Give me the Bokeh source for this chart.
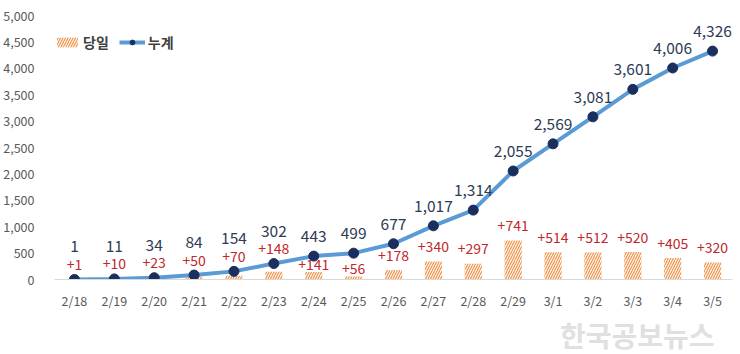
from bokeh.plotting import figure
from bokeh.models import (ColumnDataSource, Legend, LegendItem, Title, Range1d,
                          FactorRange, FixedTicker, NumeralTickFormatter)
from bokeh.embed import file_html
from bokeh.resources import INLINE
from bokeh.core.properties import value

# ---- data ----
dates = ["2/18", "2/19", "2/20", "2/21", "2/22", "2/23", "2/24", "2/25", "2/26",
         "2/27", "2/28", "2/29", "3/1", "3/2", "3/3", "3/4", "3/5"]
daily = [1, 10, 23, 50, 70, 148, 141, 56, 178, 340, 297, 741, 514, 512, 520, 405, 320]
cumulative = [1, 11, 34, 84, 154, 302, 443, 499, 677, 1017, 1314, 2055, 2569,
              3081, 3601, 4006, 4326]
y_ticks = [0, 500, 1000, 1500, 2000, 2500, 3000, 3500, 4000, 4500, 5000]
series_names = ["당일", "누계"]
watermark = "한국공보뉴스"

FONT = "Noto Sans CJK KR"
W, H = 740, 354
FL, FR, FT, FB = 54, 8, 15, 73
frame_h = H - FT - FB
px_per_unit = frame_h / (y_ticks[-1] - y_ticks[0])

# label offset rules (avoid collision between labels and line points)
daily_off, cum_off = [], []
for d, c in zip(daily, cumulative):
    gap = (c - d) * px_per_unit
    if gap < 12:
        daily_off.append(-(gap + 15))
        cum_off.append(-33)
    elif gap < 26:
        daily_off.append(-8)
        cum_off.append(-20)
    else:
        daily_off.append(-15)
        cum_off.append(-20)

src = ColumnDataSource(dict(
    x=dates, daily=daily, cum=cumulative,
    daily_txt=["+{:,}".format(v) for v in daily],
    cum_txt=["{:,}".format(v) for v in cumulative],
    daily_off=daily_off, cum_off=cum_off,
))

p = figure(width=W, height=H, x_range=FactorRange(*dates, range_padding=0),
           y_range=Range1d(y_ticks[0], y_ticks[-1]),
           output_backend="svg", toolbar_location=None,
           min_border_left=FL, min_border_right=FR, min_border_top=FT, min_border_bottom=FB)
p.outline_line_color = None
p.xgrid.grid_line_color = None
p.ygrid.grid_line_color = None
p.background_fill_color = "white"
p.border_fill_color = "white"

bars = p.vbar(x="x", top="daily", width=0.43, source=src, fill_color="#FFF6EE",
              line_color=None, hatch_pattern="/", hatch_color="#EE8F45",
              hatch_scale=5, hatch_weight=1.1)
line = p.line(x="x", y="cum", source=src, line_color="#5B9BD5", line_width=4)
dots = p.scatter(x="x", y="cum", source=src, size=10, fill_color="#1B2F5E",
                 line_color="#1B2F5E")

p.text(x="x", y="daily", text="daily_txt", source=src, y_offset="daily_off",
       text_align="center", text_baseline="middle", text_color="#C0282D",
       text_font=value(FONT), text_font_size="14px")
p.text(x="x", y="cum", text="cum_txt", source=src, y_offset="cum_off",
       text_align="center", text_baseline="middle", text_color="#2E3B55",
       text_font=value(FONT), text_font_size="15.5px")

p.yaxis.ticker = FixedTicker(ticks=y_ticks)
p.yaxis.formatter = NumeralTickFormatter(format="0,0")
p.yaxis.axis_line_color = None
p.yaxis.major_tick_line_color = None
p.yaxis.minor_tick_line_color = None
p.yaxis.major_label_text_font = FONT
p.yaxis.major_label_text_font_size = "12.5px"
p.yaxis.major_label_text_color = "#595959"
p.yaxis.major_label_standoff = 14

p.xaxis.axis_line_color = "#D9D9D9"
p.xaxis.major_tick_line_color = None
p.xaxis.minor_tick_line_color = None
p.xaxis.major_label_text_font = FONT
p.xaxis.major_label_text_font_size = "12.5px"
p.xaxis.major_label_text_color = "#595959"
p.xaxis.major_label_standoff = 5

legend = Legend(items=[LegendItem(label=series_names[0], renderers=[bars]),
                       LegendItem(label=series_names[1], renderers=[line, dots])],
                orientation="horizontal", location=(0, 227),
                background_fill_alpha=0, border_line_color=None,
                label_text_font=FONT, label_text_font_size="14px",
                label_text_color="#404040", label_text_font_style="bold",
                glyph_width=26, glyph_height=12, spacing=10, label_standoff=3,
                padding=2, margin=0)
p.add_layout(legend)

p.add_layout(Title(text=watermark, align="right", offset=18, standoff=0,
                   text_color="#E0E0E0", text_font=FONT, text_font_size="28px",
                   text_font_style="bold"), "below")

open("out.html", "w").write(file_html(p, INLINE))
